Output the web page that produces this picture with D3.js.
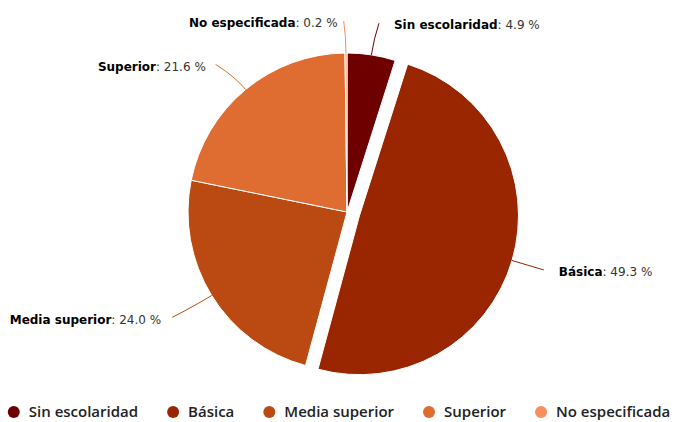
<!DOCTYPE html>
<html>
<head>
<meta charset="utf-8">
<script src="https://cdn.jsdelivr.net/npm/d3@7"></script>
<style>
  html, body { margin: 0; padding: 0; background: #fff; }
  svg { display: block; }
</style>
</head>
<body>
<div id="chart"></div>
<script>
const categories = ["Sin escolaridad", "Básica", "Media superior", "Superior", "No especificada"];
const values = [4.9, 49.3, 24.0, 21.6, 0.2];
const colors = ["#6e0000", "#992600", "#ba4a12", "#df6d32", "#f88e5c"];
const slicedIndex = 1;

const width = 678, height = 422;
const cx = 347, cy = 212, radius = 159;
const slicedOffset = 13, labelDistance = 30;

const svg = d3.select("#chart").append("svg")
    .attr("width", width)
    .attr("height", height);

const pie = d3.pie().sort(null).value(d => d.value);
const arcs = pie(categories.map((c, i) => ({ name: c, value: values[i], color: colors[i] })));

const arc = d3.arc().innerRadius(0).outerRadius(radius);

const g = svg.append("g").attr("transform", `translate(${cx},${cy})`);

function offsetOf(d, i) {
    if (i !== slicedIndex) return [0, 0];
    const a = (d.startAngle + d.endAngle) / 2;
    return [Math.sin(a) * slicedOffset, -Math.cos(a) * slicedOffset];
}

g.selectAll("path.slice")
    .data(arcs)
    .join("path")
    .attr("class", "slice")
    .attr("d", arc)
    .attr("transform", (d, i) => `translate(${offsetOf(d, i)})`)
    .attr("fill", d => d.data.color)
    .attr("stroke", "#fff")
    .attr("stroke-width", 1)
    .attr("stroke-linejoin", "round");

// data labels with soft connectors
arcs.forEach((d, i) => {
    const a = (d.startAngle + d.endAngle) / 2;
    const [ox, oy] = offsetOf(d, i);
    const sx = Math.sin(a), sy = -Math.cos(a);
    const right = sx >= 0 && a < Math.PI * 1.9;
    const edge = [ox + sx * radius, oy + sy * radius];
    const mid = [ox + sx * (radius + labelDistance * 0.55), oy + sy * (radius + labelDistance * 0.55)];
    const end = [ox + sx * (radius + labelDistance), oy + sy * (radius + labelDistance)];

    const ty = end[1] + (sy > 0 ? 3 + 6 * Math.max(0, -sx) : 0);
    const tx = right ? end[0] + 18 : end[0] - (8 + 20 * Math.abs(sx));
    const connEnd = right ? [tx - 15, ty - 2] : [tx + 6 + 6 * Math.abs(sx), ty - 2];

    const p = d3.path();
    p.moveTo(edge[0], edge[1]);
    p.quadraticCurveTo(mid[0], mid[1], connEnd[0], connEnd[1]);
    g.append("path")
        .attr("d", p.toString())
        .attr("fill", "none")
        .attr("stroke", d.data.color)
        .attr("stroke-width", 1);

    const t = g.append("text")
        .attr("x", tx)
        .attr("y", ty)
        .attr("dy", "0.35em")
        .attr("text-anchor", right ? "start" : "end")
        .style("font-family", "'DejaVu Sans', Verdana, sans-serif")
        .style("font-size", "12px");
    t.append("tspan")
        .attr("font-weight", "bold")
        .attr("fill", "#000")
        .text(d.data.name);
    t.append("tspan")
        .attr("fill", "#333")
        .text(": " + d3.format(".1f")(d.data.value) + " %");
});

// legend
const legend = svg.append("g").attr("class", "legend");
const legendY = 412, symbolR = 6, itemDistance = 29;
let lx = 0;
categories.forEach((c, i) => {
    const item = legend.append("g").attr("transform", `translate(${lx},0)`);
    item.append("circle")
        .attr("cx", symbolR)
        .attr("cy", legendY)
        .attr("r", symbolR)
        .attr("fill", colors[i]);
    const txt = item.append("text")
        .attr("x", symbolR * 2 + 9)
        .attr("y", legendY)
        .attr("dy", "0.35em")
        .attr("fill", "#222")
        .attr("font-weight", 600)
        .style("font-family", "'Open Sans', 'Noto Sans', sans-serif")
        .style("font-size", "15px")
        .text(c);
    lx += symbolR * 2 + 9 + txt.node().getComputedTextLength() + itemDistance;
});
const totalW = lx - itemDistance;
legend.attr("transform", `translate(${(width - totalW) / 2},0)`);
</script>
</body>
</html>
